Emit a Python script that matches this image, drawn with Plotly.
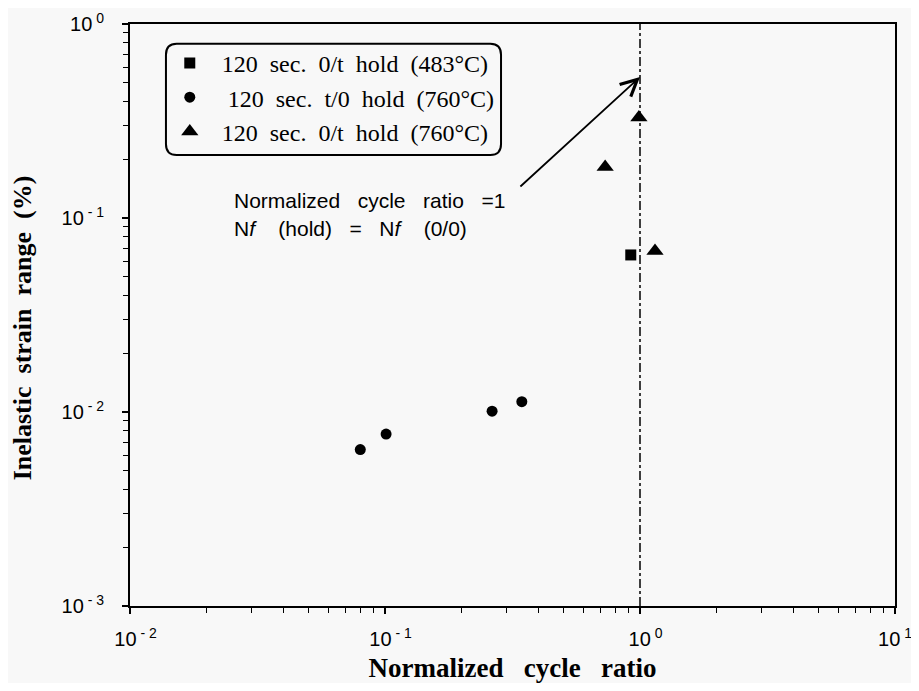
import plotly.graph_objects as go
import math

# ---- data ----
sq_x = [0.92]
sq_y = [0.0645]
circ_x = [0.080, 0.101, 0.263, 0.344]
circ_y = [0.0064, 0.0077, 0.0101, 0.0113]
tri_x = [0.73, 0.99, 1.145]
tri_y = [0.183, 0.330, 0.0676]
series_names = ["120  sec.  0/t  hold  (483°C)", "120  sec.  t/0  hold  (760°C)", "120  sec.  0/t  hold  (760°C)"]
x_ticks = [0.01, 0.1, 1, 10]
x_ticktext = ["\u00a0\u00a010<sup> - 2</sup>", "\u00a0\u00a010<sup> - 1</sup>", "\u00a0\u00a010<sup> 0</sup>", "10<sup> 1</sup>"]
y_ticks = [0.001, 0.01, 0.1, 1]
y_ticktext = ["10<sup> - 3</sup>", "10<sup> - 2</sup>", "10<sup> - 1</sup>", "10<sup> 0</sup>"]
ref_x = [1, 1]
ref_y = [0.001, 1]
arrow_tail = (0.335, 0.143)
arrow_head = (1.0, 0.533)

minor_x = [m * 10 ** e for e in range(-2, 1) for m in range(2, 10)]
minor_y = [m * 10 ** e for e in range(-3, 0) for m in range(2, 10)]

NB = "\u00a0"
def nb(s):
    return s.replace(" ", NB)

fig = go.Figure()
fig.add_trace(go.Scatter(x=ref_x, y=ref_y, mode="lines", showlegend=False,
                         line=dict(color="black", width=1.5, dash="dashdot"), hoverinfo="skip"))
fig.add_trace(go.Scatter(x=sq_x, y=sq_y, mode="markers", name=NB * 2 + nb(series_names[0]), legendgroup="a",
                         marker=dict(symbol="square", size=11, color="black")))
fig.add_trace(go.Scatter(x=circ_x, y=circ_y, mode="markers", name=NB * 3 + nb(series_names[1]), legendgroup="b",
                         marker=dict(symbol="circle", size=11, color="black")))
fig.add_trace(go.Scatter(x=tri_x, y=tri_y, mode="markers", name=NB * 2 + nb(series_names[2]), legendgroup="c",
                         marker=dict(symbol="triangle-up", size=15, color="black")))

axis_common = dict(type="log", showline=True, linecolor="black", linewidth=2, mirror=True,
                   ticks="outside", ticklen=6, tickwidth=1.5, tickcolor="black",
                   showgrid=False, zeroline=False, automargin=False, ticklabeloverflow="allow",
                   tickfont=dict(family="Liberation Sans, Arial, sans-serif", size=20, color="black"))

fig.update_xaxes(range=[-2, 1], tickvals=x_ticks, ticktext=x_ticktext,
                 ticklabelstandoff=8,
                 minor=dict(tickvals=minor_x, ticks="outside", ticklen=5, tickcolor="black", tickwidth=1),
                 title=dict(text="<b>" + nb("Normalized   cycle   ratio") + "</b>", standoff=18,
                            font=dict(family="Liberation Serif, Times New Roman, serif", size=27, color="black")),
                 **axis_common)
fig.update_yaxes(range=[-3, 0], tickvals=y_ticks, ticktext=y_ticktext,
                 ticklabelstandoff=14,
                 minor=dict(tickvals=minor_y, ticks="outside", ticklen=5, tickcolor="black", tickwidth=1),
                 title=dict(text="<b>" + nb("Inelastic  strain  range  (%)") + NB * 4 + "</b>", standoff=22,
                            font=dict(family="Liberation Serif, Times New Roman, serif", size=26, color="black")),
                 **axis_common)

# rounded legend box
x0, x1, y0, y1 = 0.047, 0.485, 0.775, 0.966
rx, ry = 0.014, 0.019
path = (f"M {x0+rx},{y1} L {x1-rx},{y1} Q {x1},{y1} {x1},{y1-ry} L {x1},{y0+ry} Q {x1},{y0} {x1-rx},{y0} "
        f"L {x0+rx},{y0} Q {x0},{y0} {x0},{y0+ry} L {x0},{y1-ry} Q {x0},{y1} {x0+rx},{y1} Z")
fig.add_shape(type="path", path=path, xref="paper", yref="paper", line=dict(color="black", width=2))

fig.add_annotation(x=math.log10(arrow_head[0]), y=math.log10(arrow_head[1]),
                   ax=math.log10(arrow_tail[0]), ay=math.log10(arrow_tail[1]),
                   xref="x", yref="y", axref="x", ayref="y", text="", showarrow=True,
                   arrowhead=5, arrowsize=1.8, arrowwidth=1.8, arrowcolor="black")

note_font = dict(family="Liberation Sans, Arial, sans-serif", size=21, color="black")
fig.add_annotation(x=0.133, y=0.696, xref="paper", yref="paper", xanchor="left", yanchor="middle",
                   text=nb("Normalized   cycle   ratio   =1"), showarrow=False, font=note_font)
fig.add_annotation(x=0.133, y=0.648, xref="paper", yref="paper", xanchor="left", yanchor="middle",
                   text=nb("N<i>f</i>    (hold)   =   N<i>f</i>    (0/0)"),
                   showarrow=False, font=note_font)

fig.update_layout(
    width=903, height=675,
    margin=dict(l=122, r=16, t=16, b=77),
    paper_bgcolor="#f8f8f8", plot_bgcolor="#f8f8f8",
    showlegend=True,
    legend=dict(x=0.052, y=0.971, xanchor="left", yanchor="top", bgcolor="rgba(0,0,0,0)",
                borderwidth=0, tracegroupgap=0,
                font=dict(family="Liberation Serif, Times New Roman, serif", size=24, color="black")),
)

fig.write_html("out.html")
